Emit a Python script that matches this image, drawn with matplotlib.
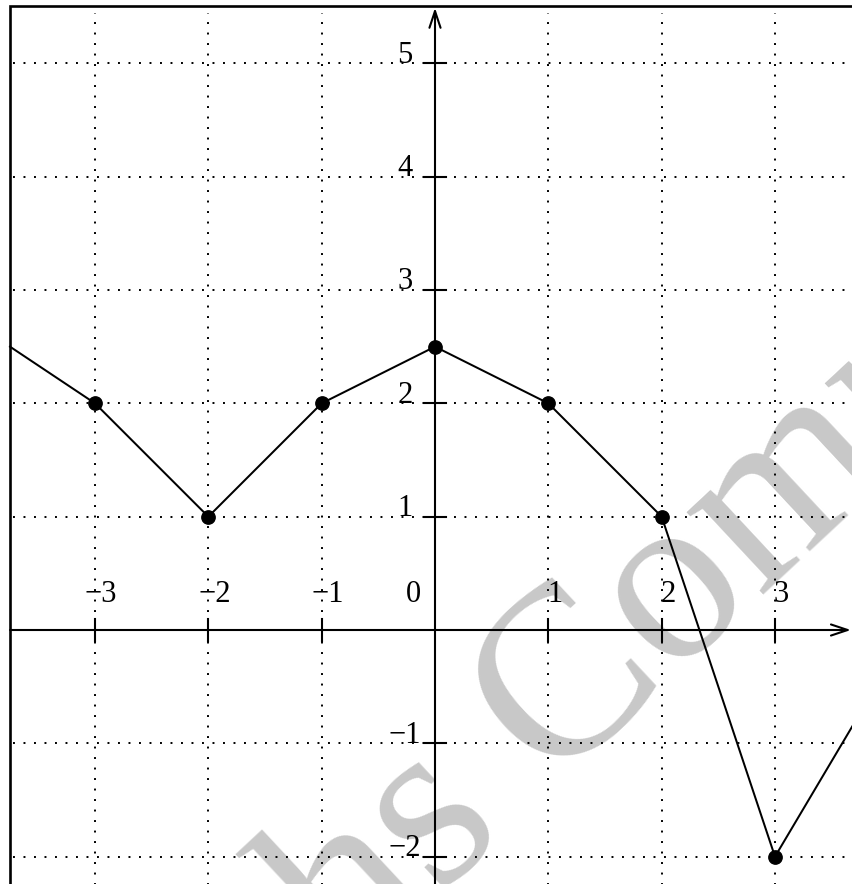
import matplotlib
matplotlib.use("Agg")
import matplotlib.pyplot as plt

# points of the piecewise linear function
x_pts = [-3, -2, -1, 0, 1, 2, 3]
y_pts = [2, 1, 2, 2.5, 2, 1, -2]
# the curve runs on past the marked points at both ends
x_line = [-3.75] + x_pts + [3.7]
y_line = [2.5] + y_pts + [-0.82]

x_ticks = [-3, -2, -1, 1, 2, 3]
y_ticks = [-2, -1, 1, 2, 3, 4, 5]
watermark = "Maths Commons"

serif = ["Liberation Serif", "DejaVu Serif"]
unit = 113.33  # pixels per unit

fig = plt.figure(figsize=(8.52, 8.84), dpi=100)
ax = fig.add_axes([0, 0, 1, 1])
ax.set_xlim(-435 / unit, 417 / unit)
ax.set_ylim(-254 / unit, 630 / unit)
ax.axis("off")

left, top = -3.75, 5.506

# watermark
ax.text(2.1, -0.42, watermark, rotation=43, rotation_mode="anchor",
        ha="center", va="baseline", fontsize=175, family=serif,
        color="#c8c8c8", zorder=0)

# dotted grid
dots = (0, (1, 4.4))
for gx in range(-3, 5):
    ax.plot([gx, gx], [-3, top - 0.06], color="black", lw=1.4,
            linestyle=dots, dash_capstyle="butt", zorder=1)
for gy in range(-2, 6):
    ax.plot([left + 0.03, 4.5], [gy, gy], color="black", lw=1.4,
            linestyle=dots, dash_capstyle="butt", zorder=1)

# frame (only left and top edges fall inside the picture)
ax.plot([left, left, 4.5], [-3, top, top], color="black", lw=1.9,
        solid_joinstyle="miter", zorder=3)

# axes with arrows
arrow = dict(arrowstyle="->,head_length=0.6,head_width=0.2", lw=1.5,
             color="black", mutation_scale=20, shrinkA=0, shrinkB=0)
ax.annotate("", xy=(3.67, 0), xytext=(left, 0), arrowprops=arrow, zorder=3)
ax.annotate("", xy=(0, 5.49), xytext=(0, -3), arrowprops=arrow, zorder=3)

# ticks and labels
for t in x_ticks:
    ax.plot([t, t], [-0.1, 0.1], color="black", lw=1.5, zorder=3)
    lab = f"{t}".replace("-", "\u2212")
    ax.text(t + 0.055, 0.25, lab, ha="center", va="baseline",
            fontsize=22, family=serif, zorder=4)
ax.text(-0.19, 0.25, "0", ha="center", va="baseline", fontsize=22,
        family=serif, zorder=4)
for t in y_ticks:
    ax.plot([-0.1, 0.1], [t, t], color="black", lw=1.5, zorder=3)
    lab = f"{t}".replace("-", "\u2212")
    ax.text(-0.265, t + 0.005, lab, ha="center", va="baseline",
            fontsize=22, family=serif, zorder=4)

# the function
ax.plot(x_line, y_line, color="black", lw=1.45, zorder=5)
ax.plot(x_pts, y_pts, "o", color="black", markersize=9.6, zorder=6)

fig.savefig("out.png", dpi=100)
